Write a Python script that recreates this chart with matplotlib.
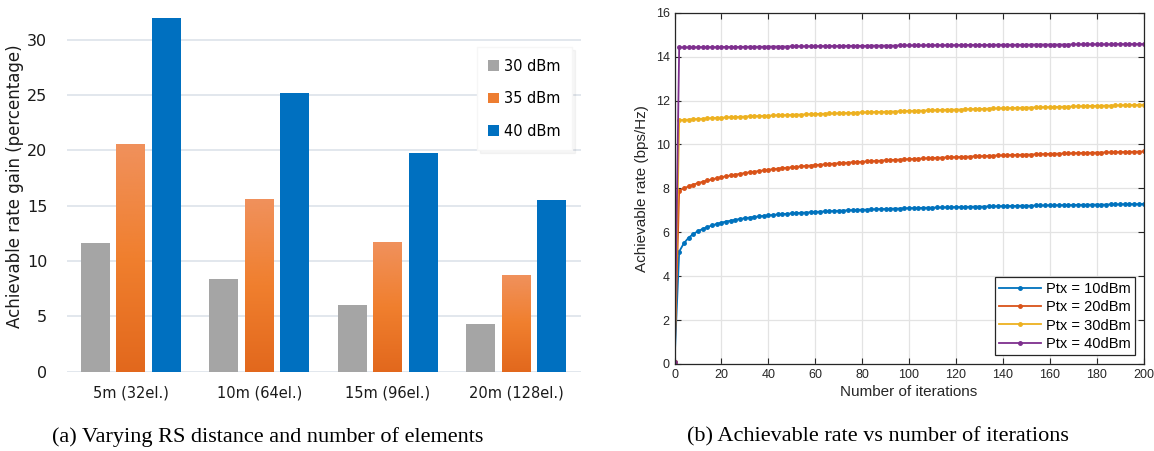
import numpy as np
import matplotlib.pyplot as plt
from matplotlib.colors import LinearSegmentedColormap

# ---- left panel: rate gain per RS distance
categories = ["5m (32el.)", "10m (64el.)", "15m (96el.)", "20m (128el.)"]
gain30 = [11.6, 8.4, 6.0, 4.3]
gain35 = [20.6, 15.6, 11.7, 8.7]
gain40 = [32.0, 25.2, 19.8, 15.5]
barLabels = ["30 dBm", "35 dBm", "40 dBm"]

# ---- right panel: achievable rate vs iterations (every 2nd iteration)
iterations = list(range(0, 201, 2))
rate10 = [0.10, 5.12, 5.50, 5.75, 5.92, 6.05, 6.15, 6.24, 6.31, 6.38,
          6.44, 6.49, 6.53, 6.57, 6.61, 6.64, 6.67, 6.70, 6.72, 6.75,
          6.77, 6.79, 6.81, 6.83, 6.84, 6.86, 6.87, 6.89, 6.90, 6.91,
          6.93, 6.94, 6.95, 6.96, 6.97, 6.98, 6.99, 7.00, 7.01, 7.02,
          7.03, 7.03, 7.04, 7.05, 7.06, 7.06, 7.07, 7.08, 7.08, 7.09,
          7.10, 7.10, 7.11, 7.11, 7.12, 7.12, 7.13, 7.13, 7.14, 7.14,
          7.15, 7.15, 7.16, 7.16, 7.17, 7.17, 7.17, 7.18, 7.18, 7.19,
          7.19, 7.19, 7.20, 7.20, 7.21, 7.21, 7.21, 7.22, 7.22, 7.22,
          7.23, 7.23, 7.23, 7.24, 7.24, 7.24, 7.25, 7.25, 7.25, 7.26,
          7.26, 7.26, 7.26, 7.27, 7.27, 7.27, 7.28, 7.28, 7.28, 7.28,
          7.29]
rate20 = [0.10, 7.90, 8.00, 8.09, 8.17, 8.24, 8.30, 8.36, 8.41, 8.46,
          8.51, 8.55, 8.59, 8.63, 8.66, 8.70, 8.73, 8.76, 8.79, 8.82,
          8.85, 8.87, 8.90, 8.92, 8.94, 8.96, 8.98, 9.00, 9.02, 9.04,
          9.06, 9.08, 9.09, 9.11, 9.13, 9.14, 9.16, 9.17, 9.19, 9.20,
          9.21, 9.23, 9.24, 9.25, 9.26, 9.28, 9.29, 9.30, 9.31, 9.32,
          9.33, 9.34, 9.35, 9.36, 9.37, 9.38, 9.39, 9.40, 9.41, 9.42,
          9.42, 9.43, 9.44, 9.45, 9.46, 9.46, 9.47, 9.48, 9.49, 9.50,
          9.50, 9.51, 9.52, 9.52, 9.53, 9.54, 9.54, 9.55, 9.56, 9.56,
          9.57, 9.58, 9.58, 9.59, 9.59, 9.60, 9.61, 9.61, 9.62, 9.62,
          9.63, 9.63, 9.64, 9.64, 9.65, 9.65, 9.66, 9.66, 9.67, 9.67,
          9.68]
rate30 = [0.10, 11.10, 11.12, 11.13, 11.15, 11.16, 11.17, 11.19, 11.20, 11.21,
          11.22, 11.23, 11.24, 11.25, 11.26, 11.27, 11.28, 11.29, 11.29, 11.30,
          11.31, 11.32, 11.33, 11.33, 11.34, 11.35, 11.36, 11.36, 11.37, 11.38,
          11.39, 11.39, 11.40, 11.41, 11.41, 11.42, 11.43, 11.43, 11.44, 11.45,
          11.46, 11.46, 11.47, 11.48, 11.48, 11.49, 11.50, 11.50, 11.51, 11.52,
          11.53, 11.53, 11.54, 11.54, 11.55, 11.56, 11.56, 11.57, 11.58, 11.58,
          11.59, 11.59, 11.60, 11.61, 11.61, 11.62, 11.62, 11.63, 11.64, 11.64,
          11.65, 11.65, 11.66, 11.66, 11.67, 11.68, 11.68, 11.69, 11.69, 11.70,
          11.70, 11.71, 11.71, 11.72, 11.72, 11.73, 11.74, 11.74, 11.75, 11.75,
          11.76, 11.76, 11.77, 11.77, 11.78, 11.78, 11.79, 11.79, 11.80, 11.80,
          11.81]
rate40 = [0.10, 14.42, 14.42, 14.42, 14.42, 14.43, 14.43, 14.43, 14.43, 14.43,
          14.44, 14.44, 14.44, 14.44, 14.44, 14.45, 14.45, 14.45, 14.45, 14.45,
          14.46, 14.46, 14.46, 14.46, 14.46, 14.47, 14.47, 14.47, 14.47, 14.47,
          14.47, 14.48, 14.48, 14.48, 14.48, 14.48, 14.49, 14.49, 14.49, 14.49,
          14.49, 14.49, 14.50, 14.50, 14.50, 14.50, 14.50, 14.50, 14.51, 14.51,
          14.51, 14.51, 14.51, 14.51, 14.52, 14.52, 14.52, 14.52, 14.52, 14.52,
          14.52, 14.53, 14.53, 14.53, 14.53, 14.53, 14.53, 14.53, 14.54, 14.54,
          14.54, 14.54, 14.54, 14.54, 14.54, 14.54, 14.55, 14.55, 14.55, 14.55,
          14.55, 14.55, 14.55, 14.55, 14.55, 14.56, 14.56, 14.56, 14.56, 14.56,
          14.56, 14.56, 14.56, 14.56, 14.57, 14.57, 14.57, 14.57, 14.57, 14.57,
          14.57]
lineLabels = ["Ptx = 10dBm", "Ptx = 20dBm", "Ptx = 30dBm", "Ptx = 40dBm"]

fig = plt.figure(figsize=(11.54, 4.51), dpi=100)

# ================= left: bar chart (Excel look)
ax1 = fig.add_axes([66.6 / 1154, 1 - 371.7 / 451, 514 / 1154, 371.7 / 451])
x = np.arange(len(categories))
w = 0.225
off = 0.277
b1 = ax1.bar(x - off, gain30, w, color="#a5a5a5", zorder=2, label=barLabels[0])
b2 = ax1.bar(x, gain35, w, color="#ed7d31", zorder=2, label=barLabels[1])
b3 = ax1.bar(x + off, gain40, w, color="#0070c0", zorder=2, label=barLabels[2])

# orange bars with vertical gradient
orangeMap = LinearSegmentedColormap.from_list("og", ["#e2681d", "#f07f2e", "#f0915c"])
grad = np.linspace(0, 1, 256).reshape(-1, 1)
for r in b2:
    x0 = r.get_x()
    h = r.get_height()
    ax1.imshow(grad, extent=[x0, x0 + r.get_width(), 0, h], origin="lower",
               aspect="auto", cmap=orangeMap, zorder=2.5)

ax1.set_xlim(-0.5, 3.5)
ax1.set_ylim(0, 33.6)
ax1.set_yticks([0, 5, 10, 15, 20, 25, 30])
ax1.set_xticks(x)
ax1.set_xticklabels(categories)
ax1.grid(axis="y", color="#dde3ea", linewidth=1.2, zorder=0)
for s in ax1.spines.values():
    s.set_visible(False)
ax1.tick_params(length=0, labelsize=10.5, colors="#1a1a1a", pad=10)
ax1.tick_params(axis="y", labelsize=11.5, pad=14)
ax1.set_ylabel("Achievable rate gain (percentage)", fontsize=12, color="#1a1a1a")
ax1.yaxis.set_label_coords(-0.083, 0.5)
leg1 = ax1.legend(loc="upper left", bbox_to_anchor=(0.798, 0.874), borderaxespad=0,
                  fontsize=10.5, handlelength=0.75, handleheight=0.75, handletextpad=0.3,
                  labelspacing=1.2, borderpad=0.8, frameon=True, fancybox=False,
                  shadow={"color": "#000000", "alpha": 0.035})
leg1.get_frame().set_edgecolor("#f6f6f6")

# ================= right: MATLAB style line plot
sansR = "Liberation Sans"
ax2 = fig.add_axes([674.5 / 1154, 1 - 364 / 451, 469 / 1154, 351.3 / 451])
lineColors = ["#0072bd", "#d95319", "#edb120", "#7e2f8e"]
for ys, c, lab in zip([rate10, rate20, rate30, rate40], lineColors, lineLabels):
    ax2.plot(iterations, ys, color=c, marker=".", markersize=5, linewidth=1.3, label=lab)

ax2.set_xlim(0, 200)
ax2.set_ylim(0, 16)
ax2.set_xticks(range(0, 201, 20))
ax2.set_yticks(range(0, 17, 2))
ax2.grid(True, color="#e3e3e3", linewidth=0.9)
ax2.tick_params(direction="in", top=True, right=True, labelsize=9, colors="#262626",
                length=4, width=0.8)
for lab in ax2.get_xticklabels() + ax2.get_yticklabels():
    lab.set_family(sansR)
for s in ax2.spines.values():
    s.set_color("#262626")
    s.set_linewidth(0.9)
ax2.set_xlabel("Number of iterations", fontsize=11, color="#262626", labelpad=3, family=sansR)
ax2.set_ylabel("Achievable rate (bps/Hz)", fontsize=11, color="#262626", labelpad=5, family=sansR)
leg2 = ax2.legend(loc="lower right", prop={"family": sansR, "size": 10.5}, fancybox=False,
                  framealpha=1, handlelength=2.9, handletextpad=0.3, labelspacing=0.3,
                  borderpad=0.3, borderaxespad=0.6)
leg2.get_frame().set_edgecolor("#262626")
leg2.get_frame().set_linewidth(0.9)

# ================= captions
fig.text(268 / 1154, 1 - 437 / 451, "(a) Varying RS distance and number of elements",
         family="Liberation Serif", fontsize=16, ha="center", va="center")
fig.text(878 / 1154, 1 - 437 / 451, "(b) Achievable rate vs number of iterations",
         family="Liberation Serif", fontsize=16, ha="center", va="center")

fig.savefig("out.png", dpi=100)
